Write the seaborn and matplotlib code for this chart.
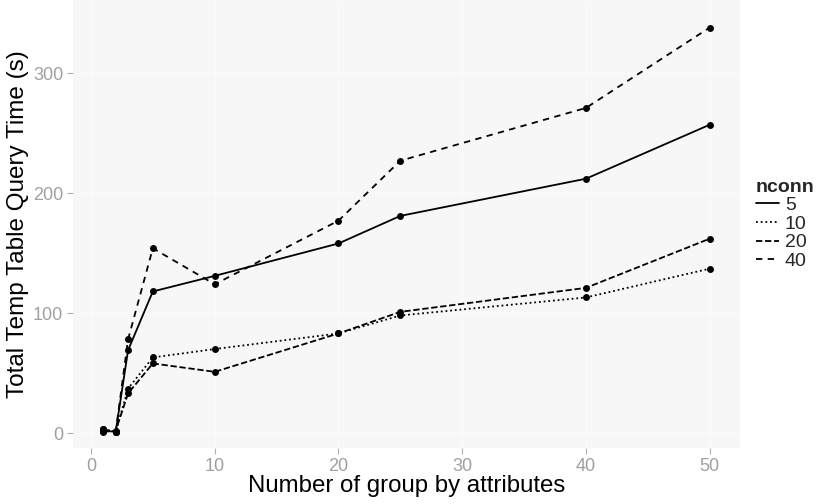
import matplotlib
matplotlib.use("Agg")
import matplotlib.pyplot as plt
import seaborn as sns
import pandas as pd
from matplotlib.lines import Line2D

# Query time (s) per number of group-by attributes, one series per connection count
group_attrs = [1, 2, 3, 5, 10, 20, 25, 40, 50]
time_nconn_5 = [2, 1, 69, 118, 131, 158, 181, 212, 257]
time_nconn_10 = [3, 1, 37, 63, 70, 83, 98, 113, 137]
time_nconn_20 = [1, 2, 33, 58, 51, 83, 101, 121, 162]
time_nconn_40 = [3, 1, 78, 154, 124, 177, 227, 271, 338]
nconn_levels = ["5", "10", "20", "40"]

series = {
    "5": time_nconn_5,
    "10": time_nconn_10,
    "20": time_nconn_20,
    "40": time_nconn_40,
}
df = pd.concat(
    [pd.DataFrame({"attrs": group_attrs, "time": v, "nconn": k}) for k, v in series.items()],
    ignore_index=True,
)

sns.set_theme(style="darkgrid")
plt.rcParams["font.family"] = ["Liberation Sans", "DejaVu Sans"]

fig = plt.figure(figsize=(8.17, 5.04), dpi=100)
ax = fig.add_axes([73 / 817, 1 - 448 / 504, (740 - 73) / 817, 448 / 504])
ax.set_facecolor("#f7f7f7")

dash_styles = {"5": "", "10": (1, 1.6), "20": (3.5, 1.5), "40": (3.5, 3)}
sns.lineplot(
    data=df, x="attrs", y="time", hue="nconn", style="nconn",
    hue_order=nconn_levels, style_order=nconn_levels,
    palette={k: "black" for k in nconn_levels},
    dashes=dash_styles, markers={k: "o" for k in nconn_levels},
    markersize=5, markeredgewidth=0, linewidth=1.3, ax=ax, legend=False,
)

ax.set_xlim(-1.45, 52.45)
ax.set_ylim(-12.5, 361)
ax.set_xticks([0, 10, 20, 30, 40, 50])
ax.set_yticks([0, 100, 200, 300])
ax.grid(True, which="major", color="#fbfbfb", linewidth=1.0)
for s in ax.spines.values():
    s.set_visible(False)
ax.tick_params(axis="both", which="major", length=4, width=0.8, color="#b0b0b0",
               labelcolor="#a0a0a0", labelsize=13, pad=3, direction="out",
               bottom=True, left=True)

ax.set_xlabel("Number of group by attributes", fontsize=17.3, color="black", labelpad=0)
ax.set_ylabel("Total Temp Table Query Time (s)", fontsize=17.5, color="black", labelpad=3)

handles = [
    Line2D([], [], color="black", linewidth=1.3,
           dashes=dash_styles[k] if dash_styles[k] else (None, None),
           linestyle="-" if not dash_styles[k] else "--")
    for k in nconn_levels
]
leg = fig.legend(handles, nconn_levels, title="nconn", loc="upper left",
                 bbox_to_anchor=(742 / 817, 1 - 165 / 504), frameon=False,
                 fontsize=14, title_fontproperties={"weight": "bold", "size": 14},
                 handlelength=1.2, handletextpad=0.3, labelspacing=0.05,
                 alignment="left", borderpad=0.2)

fig.savefig("out.png", dpi=100)
